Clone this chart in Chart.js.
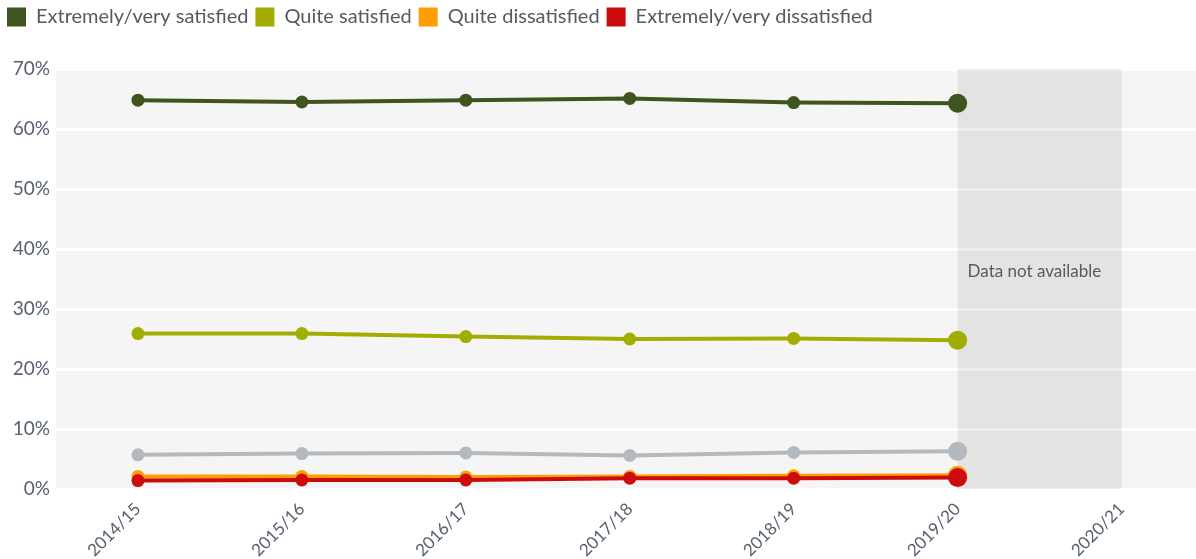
<!DOCTYPE html>
<html>
<head>
<meta charset="utf-8">
<script src="https://cdn.jsdelivr.net/npm/chart.js@4/dist/chart.umd.min.js"></script>
<style>
  html, body { margin: 0; padding: 0; background: #fff; overflow: hidden; }
  #wrap { width: 1210px; height: 559px; }
</style>
</head>
<body>
<div id="wrap"><canvas id="satChart" width="1210" height="559"></canvas></div>
<script>
const years = ['2014/15', '2015/16', '2016/17', '2017/18', '2018/19', '2019/20', '2020/21'];
const verySatisfied = [64.8, 64.5, 64.8, 65.1, 64.4, 64.3, null];
const quiteSatisfied = [25.9, 25.9, 25.4, 25.0, 25.1, 24.8, null];
const neither = [5.7, 5.9, 6.0, 5.6, 6.1, 6.3, null];
const quiteDissatisfied = [2.1, 2.1, 2.0, 2.1, 2.2, 2.3, null];
const veryDissatisfied = [1.4, 1.5, 1.5, 1.8, 1.8, 1.9, null];
const yTicks = [0, 10, 20, 30, 40, 50, 60, 70];
const missingFrom = '2019/20';
const missingTo = '2020/21';
const missingText = 'Data not available';

const FONT = 'Lato, "Noto Sans", sans-serif';
const TICK_COLOR = '#56616d';

function lastBig(values) {
    let last = -1;
    values.forEach((v, i) => { if (v !== null) last = i; });
    return ctx => ctx.dataIndex === last ? 9.5 : 6.5;
}

function series(label, values, color, order, legend = true) {
    return {
        label: label,
        data: values,
        borderColor: color,
        backgroundColor: color,
        pointBackgroundColor: color,
        pointBorderWidth: 0,
        borderWidth: 4,
        pointRadius: lastBig(values),
        pointHoverRadius: lastBig(values),
        fill: false,
        order: order,
        inLegend: legend
    };
}

// grey background, "no data" band and its label
const plotBackground = {
    id: 'plotBackground',
    beforeUpdate(chart) {
        const lg = chart.legend;
        if (lg && !lg._patched) {
            const fit = lg.fit;
            lg.fit = function () { fit.call(this); this.height = 69; };
            lg._patched = true;
        }
    },
    beforeDraw(chart) {
        const a = chart.chartArea;
        const c = chart.ctx;
        c.save();
        c.fillStyle = '#f5f5f5';
        c.fillRect(a.left, a.top, a.right - a.left, a.bottom - a.top);
        c.restore();
    },
    beforeDatasetsDraw(chart) {
        const a = chart.chartArea;
        const x = chart.scales.x;
        const c = chart.ctx;
        const x0 = x.getPixelForValue(years.indexOf(missingFrom));
        const x1 = x.getPixelForValue(years.indexOf(missingTo));
        c.save();
        c.fillStyle = 'rgba(0,0,0,0.07)';
        c.fillRect(x0, a.top, x1 - x0, a.bottom - a.top);
        c.fillStyle = '#555b61';
        c.font = '17px ' + FONT;
        c.textBaseline = 'middle';
        c.textAlign = 'left';
        c.fillText(missingText, x0 + 10, chart.scales.y.getPixelForValue(36.2));
        c.restore();
    }
};

const ctx = document.getElementById('satChart').getContext('2d');
const chart = new Chart(ctx, {
    type: 'line',
    data: {
        labels: years,
        datasets: [
            series('Extremely/very satisfied', verySatisfied, '#40541f', 4),
            series('Quite satisfied', quiteSatisfied, '#a2ad00', 3),
            series('Neither satisfied nor dissatisfied', neither, '#b2babf', 2, false),
            series('Quite dissatisfied', quiteDissatisfied, '#ff9e00', 1),
            series('Extremely/very dissatisfied', veryDissatisfied, '#cc0c0c', 0)
        ]
    },
    plugins: [plotBackground],
    options: {
        responsive: false,
        animation: false,
        layout: { padding: { left: 0, right: 0, top: 0, bottom: 0 } },
        plugins: {
            tooltip: { enabled: false },
            legend: {
                position: 'top',
                align: 'start',
                labels: {
                    boxWidth: 19,
                    boxHeight: 19,
                    padding: 7,
                    color: '#555b61',
                    font: { family: FONT, size: 20 },
                    filter: (item, data) => data.datasets[item.datasetIndex].inLegend,
                    sort: (a, b) => a.datasetIndex - b.datasetIndex,
                    generateLabels(chart) {
                        return chart.data.datasets.map((ds, i) => ({
                            text: ds.label,
                            fillStyle: ds.borderColor,
                            strokeStyle: ds.borderColor,
                            lineWidth: 0,
                            fontColor: '#555b61',
                            datasetIndex: i,
                            hidden: false
                        }));
                    }
                }
            }
        },
        scales: {
            x: {
                offset: true,
                grid: { display: false },
                border: { display: false },
                ticks: {
                    color: TICK_COLOR,
                    font: { family: FONT, size: 17 },
                    minRotation: 45,
                    maxRotation: 45,
                    padding: 2
                },
                afterFit: s => { s.height = 70; }
            },
            y: {
                min: 0,
                max: 70,
                afterBuildTicks: s => { s.ticks = yTicks.map(v => ({ value: v })); },
                grid: { color: '#ffffff', lineWidth: 3, drawTicks: false },
                border: { display: false },
                ticks: {
                    color: TICK_COLOR,
                    font: { family: FONT, size: 19 },
                    padding: 6,
                    callback: v => v + '%'
                },
                afterFit: s => { s.width = 56; }
            }
        }
    }
});
</script>
</body>
</html>
